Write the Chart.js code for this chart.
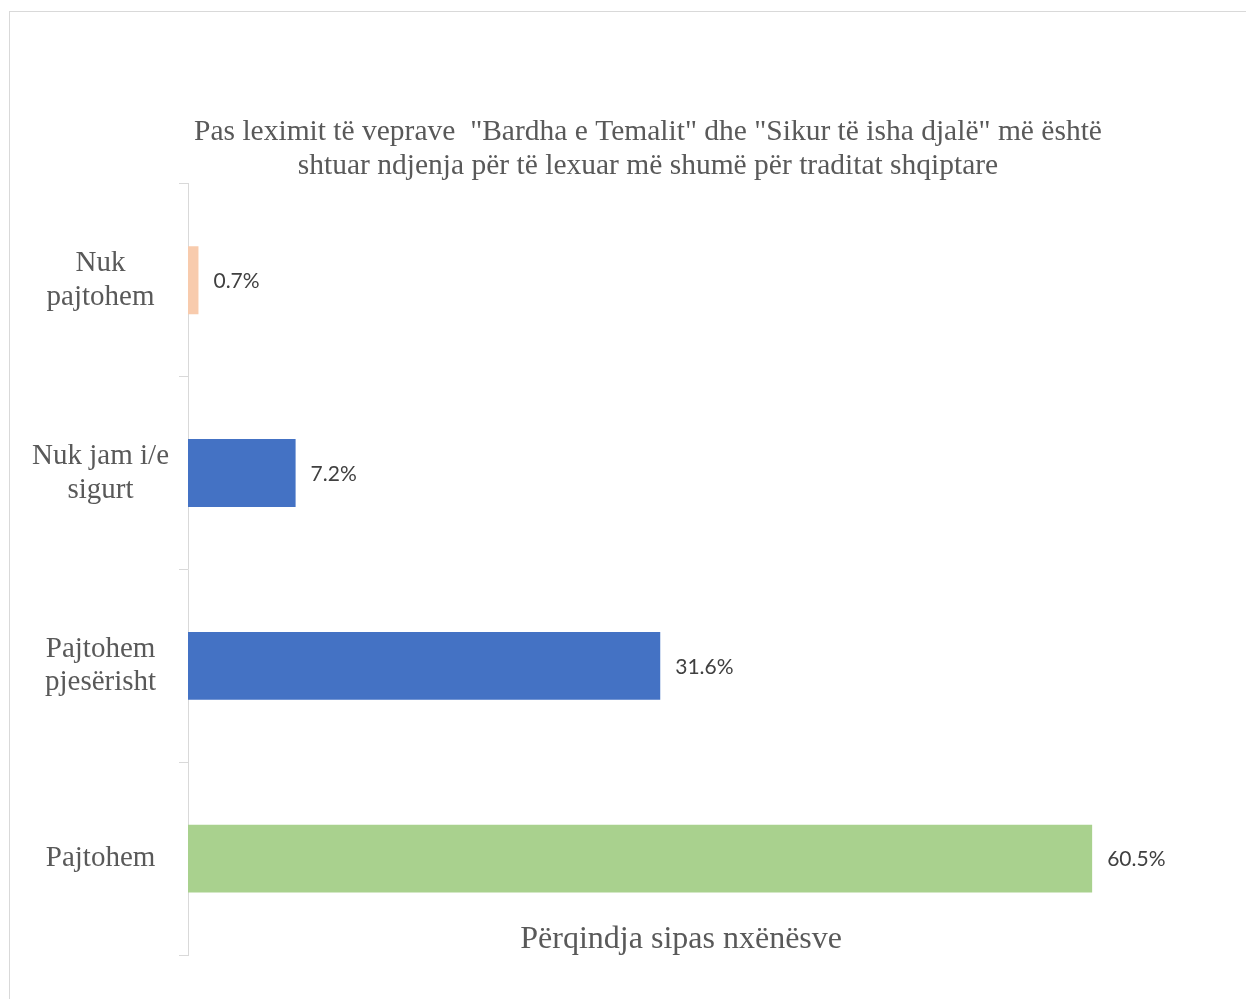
<!DOCTYPE html>
<html>
<head>
<meta charset="utf-8">
<script src="https://cdn.jsdelivr.net/npm/chart.js@4/dist/chart.umd.min.js"></script>
<style>
  body { margin: 0; background: #fff; overflow: hidden; }
  #frame {
    position: absolute; left: 9px; top: 11px;
    width: 1300px; height: 1100px;
    border: 1px solid #D9D9D9;
  }
  #wrap { position: absolute; left: 0; top: 0; width: 1300px; height: 999px; }
</style>
</head>
<body>
<div id="frame"></div>
<div id="wrap"><canvas id="chart"></canvas></div>
<script>
const categories = [
	['Nuk', 'pajtohem'],
	['Nuk jam i/e', 'sigurt'],
	['Pajtohem', 'pjesërisht'],
	'Pajtohem'
];
const percentages = [0.7, 7.2, 31.6, 60.5];
const barColors = ['#F8CBAD', '#4472C4', '#4472C4', '#A9D18E'];
const titleLines = [
	'Pas leximit të veprave  "Bardha e Temalit" dhe "Sikur të isha djalë" më është',
	'shtuar ndjenja për të lexuar më shumë për traditat shqiptare'
];
const axisCaption = 'Përqindja sipas nxënësve';
const axisMax = 72;
// the caption sits under the part of the plot that holds bars
const captionSpanPct = 66;

const serif = '"Liberation Serif", "Times New Roman", serif';
const textGray = '#595959';
const lineGray = '#D9D9D9';

// value labels to the right of each bar, plus the axis caption inside the plot
const barLabels = {
	id: 'barLabels',
	afterDatasetsDraw(chart) {
		const ctx = chart.ctx;
		const meta = chart.getDatasetMeta(0);
		ctx.save();
		ctx.font = '21px Lato, "Open Sans", sans-serif';
		ctx.fillStyle = '#404040';
		ctx.textAlign = 'left';
		ctx.textBaseline = 'middle';
		meta.data.forEach((bar, i) => {
			ctx.fillText(percentages[i].toFixed(1) + '%', bar.x + 15, bar.y + 1);
		});

		const x = chart.scales.x;
		ctx.font = '32px ' + serif;
		ctx.fillStyle = textGray;
		ctx.textAlign = 'center';
		ctx.fillText(axisCaption, x.getPixelForValue(captionSpanPct / 2), chart.chartArea.bottom - 15);
		ctx.restore();
	}
};

new Chart(document.getElementById('chart'), {
	type: 'bar',
	data: {
		labels: categories,
		datasets: [{
			data: percentages,
			backgroundColor: barColors,
			borderWidth: 0,
			barPercentage: 0.352,
			categoryPercentage: 1
		}]
	},
	plugins: [barLabels],
	options: {
		indexAxis: 'y',
		responsive: true,
		maintainAspectRatio: false,
		animation: false,
		layout: {
			padding: { left: 32, right: 36, top: 0, bottom: 43 }
		},
		plugins: {
			legend: { display: false },
			tooltip: { enabled: false },
			title: {
				display: true,
				text: titleLines,
				color: textGray,
				font: { family: serif, size: 29.5, weight: 'normal', lineHeight: 1.15 },
				padding: { top: 115, bottom: 1 }
			}
		},
		scales: {
			x: {
				display: false,
				min: 0,
				max: axisMax
			},
			y: {
				grid: {
					drawOnChartArea: false,
					drawTicks: true,
					tickLength: 9,
					color: lineGray
				},
				border: { color: lineGray, width: 1 },
				ticks: {
					crossAlign: 'center',
					padding: 10,
					color: textGray,
					font: { family: serif, size: 29, lineHeight: 1.17 }
				},
				afterFit(scale) {
					scale.width = 156;
				}
			}
		}
	}
});
</script>
</body>
</html>
